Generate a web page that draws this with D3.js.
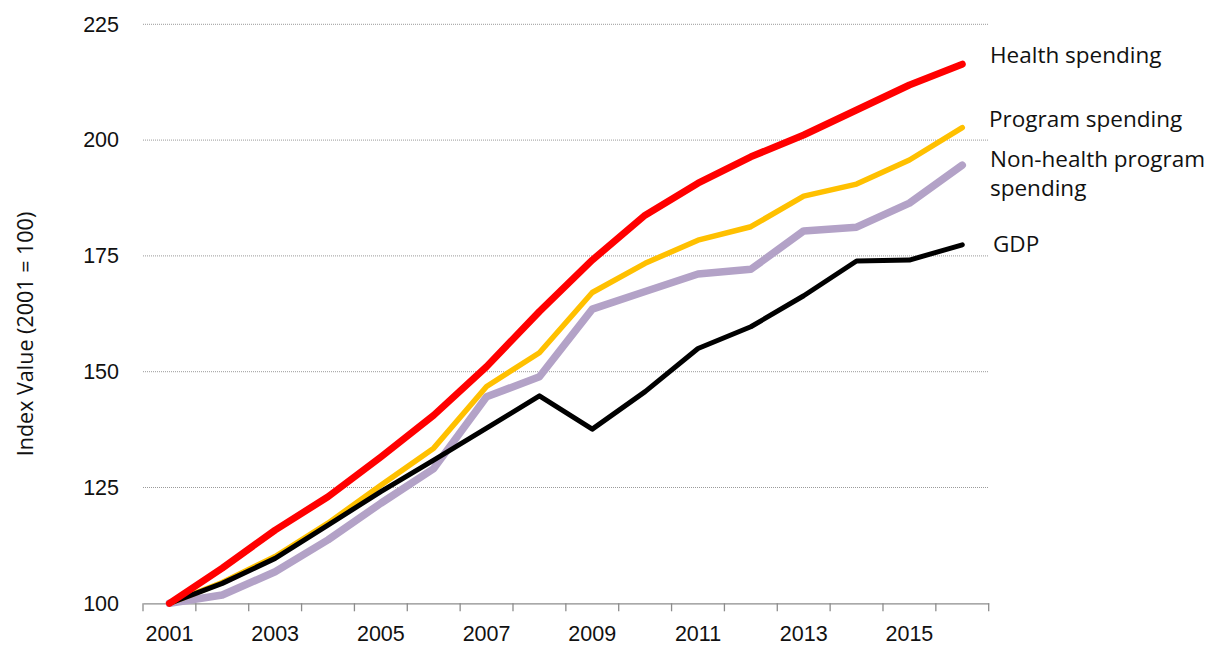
<!DOCTYPE html>
<html>
<head>
<meta charset="utf-8">
<script src="https://cdn.jsdelivr.net/npm/d3@7"></script>
<style>
  body { margin: 0; background: #fff; }
  svg { display: block; font-family: "Open Sans", sans-serif; }
  .tick text { fill: #111; }
</style>
</head>
<body>
<div id="chart"></div>
<script>
// data (index, 2001 = 100)
var years = [2001, 2002, 2003, 2004, 2005, 2006, 2007, 2008, 2009, 2010, 2011, 2012, 2013, 2014, 2015, 2016];
var health = [100, 107.6, 115.8, 123.0, 131.6, 140.6, 151.1, 163.0, 174.1, 183.8, 190.7, 196.4, 201.1, 206.5, 211.9, 216.4];
var program = [100, 104.5, 110.1, 117.3, 125.5, 133.5, 146.8, 154.1, 167.1, 173.4, 178.4, 181.3, 187.9, 190.5, 195.7, 202.7];
var nonHealth = [100, 101.8, 106.8, 113.7, 121.6, 129.1, 144.6, 148.9, 163.5, 167.3, 171.1, 172.1, 180.4, 181.2, 186.4, 194.6];
var gdp = [100, 104.3, 109.7, 116.9, 124.1, 130.9, 137.8, 144.8, 137.6, 145.7, 155.0, 159.7, 166.4, 173.9, 174.1, 177.4];
var yTicks = [100, 125, 150, 175, 200, 225];

var width = 1207, height = 646;
var margin = { top: 24.3, right: 218.3, bottom: 42.7, left: 143 };

var svg = d3.select('#chart')
  .append('svg')
  .attr('width', width)
  .attr('height', height);

var x = d3.scaleBand()
  .domain(years)
  .range([margin.left, width - margin.right])
  .padding(0);

var y = d3.scaleLinear()
  .domain([100, 225])
  .range([height - margin.bottom, margin.top]);

// dotted gridlines
svg.append('g')
  .selectAll('line')
  .data(yTicks.slice(1))
  .enter()
  .append('line')
  .attr('x1', margin.left)
  .attr('x2', width - margin.right)
  .attr('y1', function(d) { return y(d); })
  .attr('y2', function(d) { return y(d); })
  .attr('stroke', '#9a9a9a')
  .attr('stroke-width', 1)
  .attr('stroke-dasharray', '1,1');

// y axis labels only
var yAxis = svg.append('g')
  .attr('transform', 'translate(' + margin.left + ',0)')
  .call(d3.axisLeft(y).tickValues(yTicks).tickSize(0).tickPadding(24));
yAxis.select('.domain').remove();
yAxis.selectAll('text').style('font-size', '21.5px');

// x axis: line + boundary ticks, labels every other year
var xAxis = svg.append('g')
  .attr('transform', 'translate(0,' + y(100) + ')')
  .call(d3.axisBottom(x)
    .tickValues(years.filter(function(d) { return d % 2 === 1; }))
    .tickSize(0)
    .tickPadding(22));
xAxis.select('.domain').attr('stroke', '#8c8c8c').attr('stroke-width', 1.3);
xAxis.selectAll('text').style('font-size', '21.5px');

var edges = years.map(function(d) { return x(d); }).concat([x(years[years.length - 1]) + x.bandwidth()]);
xAxis.selectAll('.edge')
  .data(edges)
  .enter()
  .append('line')
  .attr('class', 'edge')
  .attr('x1', function(d) { return d; })
  .attr('x2', function(d) { return d; })
  .attr('y1', 0)
  .attr('y2', 8)
  .attr('stroke', '#8c8c8c')
  .attr('stroke-width', 1.3);

// y axis title
svg.append('text')
  .attr('transform', 'translate(33,' + 334 + ') rotate(-90)')
  .attr('text-anchor', 'middle')
  .style('font-size', '21.5px')
  .attr('fill', '#111')
  .text('Index Value (2001 = 100)');

var line = d3.line()
  .x(function(d, i) { return x(years[i]) + x.bandwidth() / 2; })
  .y(function(d) { return y(d); });

var series = [
  { values: nonHealth, color: '#b3a2c7', w: 7.5 },
  { values: program, color: '#ffc000', w: 5.5 },
  { values: gdp, color: '#000000', w: 5 },
  { values: health, color: '#ff0000', w: 7 }
];

svg.append('g')
  .selectAll('path')
  .data(series)
  .enter()
  .append('path')
  .attr('d', function(d) { return line(d.values); })
  .attr('fill', 'none')
  .attr('stroke', function(d) { return d.color; })
  .attr('stroke-width', function(d) { return d.w; })
  .attr('stroke-linejoin', 'round')
  .attr('stroke-linecap', 'round');

// series labels at the right
var labels = [
  { lines: ['Health spending'], x: 990, y: 63 },
  { lines: ['Program spending'], x: 989, y: 127 },
  { lines: ['Non-health program', 'spending'], x: 990, y: 167 },
  { lines: ['GDP'], x: 993, y: 252 }
];

labels.forEach(function(l) {
  var t = svg.append('text')
    .attr('x', l.x)
    .attr('y', l.y)
    .style('font-size', '22.5px')
    .attr('fill', '#111');
  l.lines.forEach(function(s, i) {
    t.append('tspan')
      .attr('x', l.x)
      .attr('dy', i === 0 ? 0 : 29)
      .text(s);
  });
});
</script>
</body>
</html>
